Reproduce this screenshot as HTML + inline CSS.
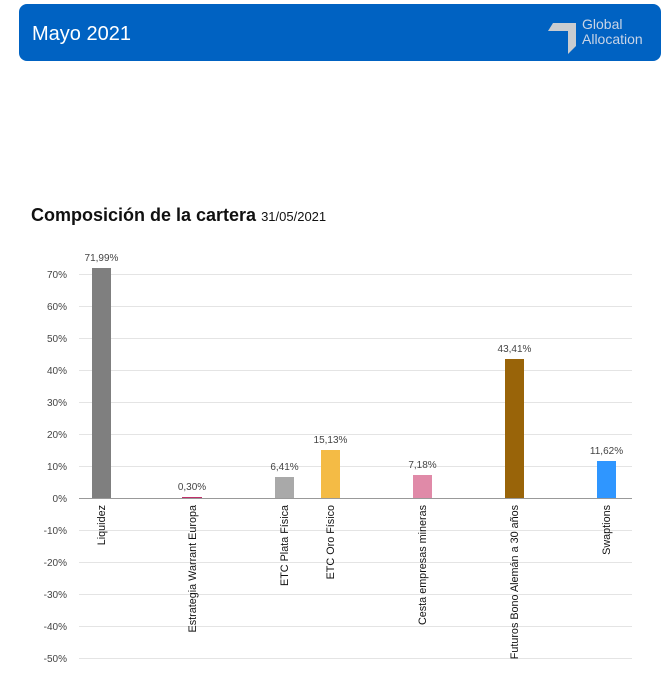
<!DOCTYPE html>
<html><head><meta charset="utf-8"><style>
body{margin:0;width:665px;height:689px;background:#fff;overflow:hidden;font-family:"Liberation Sans",sans-serif;}
</style></head><body>
<svg width="665" height="689" xmlns="http://www.w3.org/2000/svg" font-family="Liberation Sans, sans-serif">
<rect x="19" y="4" width="642" height="57" rx="8" fill="#0062c2"/>
<text x="32" y="40" font-size="20" fill="#fff">Mayo 2021</text>
<polygon points="553,23 576,23 576,46 568,54 568,31 548,31" fill="#c9ccd0"/>
<text x="582" y="29" font-size="14" fill="#c8d4e6">Global</text>
<text x="582" y="44" font-size="14" fill="#c8d4e6">Allocation</text>
<text x="31" y="221" font-size="18" font-weight="bold" fill="#111">Composición de la cartera <tspan font-size="13" font-weight="normal">31/05/2021</tspan></text>
<g stroke="#e4e4e4" stroke-width="1">
<line x1="79" x2="632" y1="274.5" y2="274.5"/><line x1="79" x2="632" y1="306.5" y2="306.5"/>
<line x1="79" x2="632" y1="338.5" y2="338.5"/><line x1="79" x2="632" y1="370.5" y2="370.5"/>
<line x1="79" x2="632" y1="402.5" y2="402.5"/><line x1="79" x2="632" y1="434.5" y2="434.5"/>
<line x1="79" x2="632" y1="466.5" y2="466.5"/>
<line x1="79" x2="632" y1="530.5" y2="530.5"/><line x1="79" x2="632" y1="562.5" y2="562.5"/>
<line x1="79" x2="632" y1="594.5" y2="594.5"/><line x1="79" x2="632" y1="626.5" y2="626.5"/>
<line x1="79" x2="632" y1="658.5" y2="658.5"/>
</g>
<g font-size="10" fill="#444" text-anchor="end">
<text x="67" y="278">70%</text><text x="67" y="310">60%</text><text x="67" y="342">50%</text>
<text x="67" y="374">40%</text><text x="67" y="406">30%</text><text x="67" y="438">20%</text>
<text x="67" y="470">10%</text><text x="67" y="502">0%</text><text x="67" y="534">-10%</text>
<text x="67" y="566">-20%</text><text x="67" y="598">-30%</text><text x="67" y="630">-40%</text>
<text x="67" y="662">-50%</text>
</g>
<rect x="92" y="268" width="19" height="230" fill="#7f7f7f"/>
<rect x="182" y="497" width="20" height="1" fill="#c0306a"/>
<rect x="275" y="477" width="19" height="21" fill="#a9a9a9"/>
<rect x="321" y="450" width="19" height="48" fill="#f4bb45"/>
<rect x="413" y="475" width="19" height="23" fill="#e08aa8"/>
<rect x="505" y="359" width="19" height="139" fill="#996409"/>
<rect x="597" y="461" width="19" height="37" fill="#2f96ff"/>
<line x1="79" x2="632" y1="498.5" y2="498.5" stroke="#999"/>
<g font-size="10" fill="#444" text-anchor="middle">
<text x="101.5" y="261">71,99%</text><text x="192" y="490">0,30%</text>
<text x="284.5" y="470">6,41%</text><text x="330.5" y="443">15,13%</text>
<text x="422.5" y="468">7,18%</text><text x="514.5" y="352">43,41%</text>
<text x="606.5" y="454">11,62%</text>
</g>
<g font-size="10.8" fill="#111" text-anchor="end">
<text transform="translate(105,505) rotate(-90)">Liquidez</text>
<text transform="translate(196,505) rotate(-90)">Estrategia Warrant Europa</text>
<text transform="translate(288,505) rotate(-90)">ETC Plata Física</text>
<text transform="translate(334,505) rotate(-90)">ETC Oro Físico</text>
<text transform="translate(426,505) rotate(-90)">Cesta empresas mineras</text>
<text transform="translate(518,505) rotate(-90)">Futuros Bono Alemán a 30 años</text>
<text transform="translate(610,505) rotate(-90)">Swaptions</text>
</g>
</svg>
</body></html>
